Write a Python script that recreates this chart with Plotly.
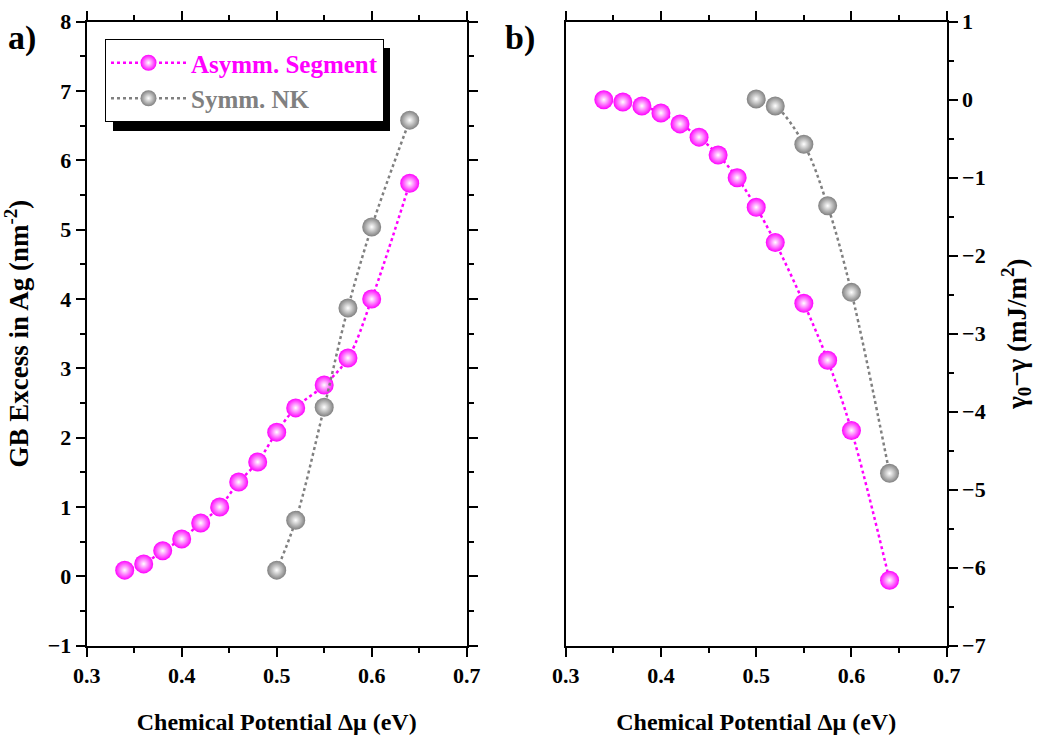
import plotly.graph_objects as go

# Data
mu_asym = [0.34, 0.36, 0.38, 0.40, 0.42, 0.44, 0.46, 0.48, 0.50, 0.52, 0.55, 0.575, 0.60, 0.64]
excess_asym = [0.09, 0.18, 0.37, 0.54, 0.77, 1.00, 1.36, 1.65, 2.08, 2.43, 2.76, 3.15, 4.00, 5.67]
gamma_asym = [0.00, -0.03, -0.08, -0.17, -0.31, -0.48, -0.71, -1.00, -1.38, -1.83, -2.61, -3.34, -4.24, -6.16]

mu_sym = [0.50, 0.52, 0.55, 0.575, 0.60, 0.64]
excess_sym = [0.09, 0.81, 2.44, 3.87, 5.04, 6.58]
gamma_sym = [0.01, -0.08, -0.57, -1.36, -2.47, -4.79]

MAG = "#ff00ff"
GRAY = "#808080"
FONT = "Liberation Serif"

fig = go.Figure()

def add(x, y, color, name, xa, ya, show, group):
    fig.add_trace(go.Scatter(
        x=x, y=y, mode="lines+markers", name=name, showlegend=show, legendgroup=group,
        xaxis=xa, yaxis=ya,
        line=dict(color=color, width=2.5, dash="dot", shape="spline"),
        marker=dict(size=19, color=color, line=dict(width=0),
                    gradient=dict(type="radial", color="#ffffff")),
    ))

add(mu_asym, excess_asym, MAG, "<b><span style='color:#ff00ff'>Asymm. Segment</span></b>", "x", "y", True, "a")
add(mu_sym, excess_sym, GRAY, "<b><span style='color:#808080'>Symm. NK</span></b>", "x", "y", True, "s")
add(mu_asym, gamma_asym, MAG, "Asymm. Segment", "x2", "y2", False, "a")
add(mu_sym, gamma_sym, GRAY, "Symm. NK", "x2", "y2", False, "s")

ydom = [(742 - 645.7) / 742, (742 - 21.7) / 742]
xdom1 = [86.7 / 1042, 466.7 / 1042]
xdom2 = [565.7 / 1042, 946.7 / 1042]

tickfont = dict(family=FONT, size=22, color="black", weight="bold")
xtitlefont = dict(family=FONT, size=24, color="black", weight="bold")
ytitlefont = dict(family=FONT, size=27, color="black", weight="bold")

minor_common = dict(ticks="outside", ticklen=5, tickwidth=1.5, tickcolor="black", showgrid=False)

xcommon = dict(range=[0.3, 0.7], dtick=0.1, tick0=0.3, ticks="outside", ticklen=9, tickwidth=1.5,
               tickcolor="black", showline=True, linecolor="black", linewidth=2, mirror="ticks",
               showgrid=False, zeroline=False, tickfont=tickfont, tickformat=".1f",
               minor=dict(dtick=0.05, tick0=0.3, **minor_common),
               title=dict(text="Chemical Potential Δμ (eV)", font=xtitlefont, standoff=26),
               automargin=False)

ycommon = dict(domain=ydom, dtick=1, ticks="outside", ticklen=9, tickwidth=1.5,
               tickcolor="black", showline=True, linecolor="black", linewidth=2,
               showgrid=False, zeroline=False, tickfont=tickfont,
               minor=dict(dtick=0.5, **minor_common), automargin=False)

fig.update_layout(
    template="none",
    width=1042, height=742,
    margin=dict(l=0, r=0, t=0, b=0),
    paper_bgcolor="white", plot_bgcolor="white",
    font=dict(family=FONT, color="black"),
    showlegend=True,
    xaxis=dict(domain=xdom1, anchor="y", **xcommon),
    xaxis2=dict(domain=xdom2, anchor="y2", **xcommon),
    yaxis=dict(anchor="x", range=[-1, 8], mirror="ticks",
               title=dict(text="GB Excess in Ag (nm<sup>-2</sup>)", font=ytitlefont, standoff=12),
               **ycommon),
    yaxis2=dict(anchor="x2", side="right", range=[-7, 1], mirror=True,
                title=dict(text="γ<sub>0</sub>−γ (mJ/m<sup>2</sup>)", font=ytitlefont, standoff=22),
                **ycommon),
    legend=dict(x=105 / 1042, y=(742 - 39) / 742, xanchor="left", yanchor="top",
                bgcolor="white", bordercolor="black", borderwidth=1,
                font=dict(family=FONT, size=25), itemwidth=75, tracegroupgap=0,
                traceorder="normal"),
    shapes=[dict(type="rect", xref="paper", yref="paper",
                 x0=113 / 1042, x1=390 / 1042, y0=(742 - 131) / 742, y1=(742 - 48) / 742,
                 fillcolor="black", line=dict(width=0), layer="above")],
    annotations=[
        dict(text="<b>a)</b>", x=6 / 1042, y=(742 - 38) / 742, xref="paper", yref="paper",
             showarrow=False, xanchor="left", yanchor="middle", font=dict(family=FONT, size=34, color="black")),
        dict(text="<b>b)</b>", x=503 / 1042, y=(742 - 38) / 742, xref="paper", yref="paper",
             showarrow=False, xanchor="left", yanchor="middle", font=dict(family=FONT, size=34, color="black")),
    ],
)

fig.write_html("out.html")
